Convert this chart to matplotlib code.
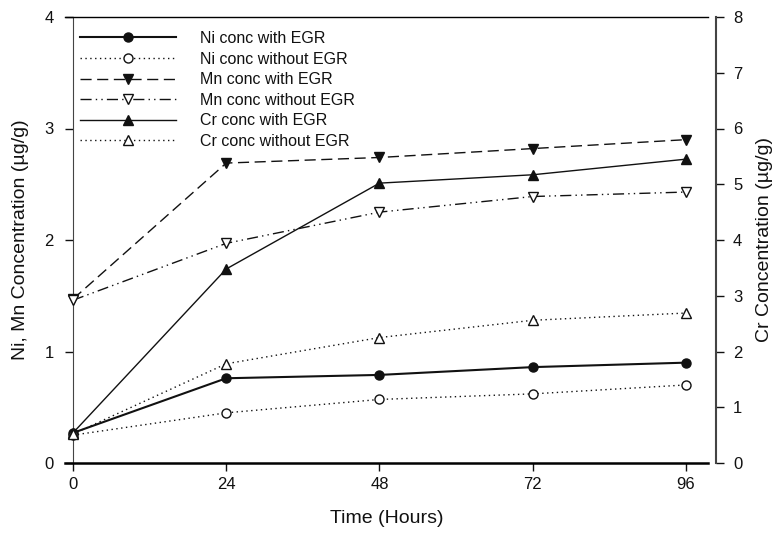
import matplotlib
matplotlib.use("Agg")
import matplotlib.pyplot as plt

plt.rcParams['font.family'] = ['Liberation Sans', 'DejaVu Sans']

hours = [0, 24, 48, 72, 96]
ni_with = [0.27, 0.76, 0.79, 0.86, 0.90]
ni_without = [0.25, 0.45, 0.57, 0.62, 0.70]
mn_with = [1.47, 2.69, 2.74, 2.82, 2.90]
mn_without = [1.46, 1.97, 2.25, 2.39, 2.43]
cr_with = [0.54, 3.48, 5.02, 5.17, 5.45]
cr_without = [0.52, 1.78, 2.25, 2.56, 2.69]

x_ticks = [0, 24, 48, 72, 96]
left_ticks = [0, 1, 2, 3, 4]
right_ticks = [0, 1, 2, 3, 4, 5, 6, 7, 8]

W, H = 782, 535
fig = plt.figure(figsize=(W / 100, H / 100), dpi=100)
ax = fig.add_axes([65 / W, 1 - 463 / H, (708 - 65) / W, (463 - 17) / H])
ax2 = ax.twinx()

dark = '#111111'
ms = 6.5
h1, = ax.plot(hours, ni_with, color=dark, lw=1.5, ls='-', marker='o', ms=ms,
              mfc=dark, mec=dark, label='Ni conc with EGR', zorder=5)
h2, = ax.plot(hours, ni_without, color=dark, lw=1.0, ls=(0, (1, 2.5)), marker='o', ms=ms,
              mfc='white', mec=dark, label='Ni conc without EGR', zorder=5)
h3, = ax.plot(hours, mn_with, color=dark, lw=1.0, ls=(0, (8, 4)), marker='v', ms=ms + 1,
              mfc=dark, mec=dark, label='Mn conc with EGR', zorder=5)
h4, = ax.plot(hours, mn_without, color=dark, lw=1.0, ls=(0, (8, 3, 1, 3, 1, 3)), marker='v', ms=ms + 1,
              mfc='white', mec=dark, label='Mn conc without EGR', zorder=5)
h5, = ax2.plot(hours, cr_with, color=dark, lw=1.0, ls='-', marker='^', ms=ms + 1,
               mfc=dark, mec=dark, label='Cr conc with EGR', zorder=5)
h6, = ax2.plot(hours, cr_without, color=dark, lw=1.0, ls=(0, (1, 2.5)), marker='^', ms=ms + 1,
               mfc='white', mec=dark, label='Cr conc without EGR', zorder=5)

ax.set_xlim(-1.25, 99.45)
ax.set_ylim(0, 4)
ax2.set_ylim(0, 8)
ax.set_xticks(x_ticks)
ax.set_xticklabels([str(t) for t in x_ticks])
ax.set_yticks(left_ticks)
ax2.set_yticks(right_ticks)

# spines
ax.spines['left'].set_position(('data', 0))
ax.spines['left'].set_linewidth(0.8)
ax.spines['left'].set_color('#444444')
ax.spines['bottom'].set_linewidth(1.8)
ax.spines['top'].set_linewidth(1.0)
ax.spines['right'].set_visible(False)
for s in ['left', 'top', 'bottom']:
    ax2.spines[s].set_visible(False)
ax2.spines['right'].set_position(('outward', 6))
ax2.spines['right'].set_linewidth(1.5)
ax2.spines['right'].set_color('#444444')

ax.tick_params(axis='x', direction='out', length=6, width=1.0, labelsize=12, pad=4, colors=dark)
ax.tick_params(axis='y', direction='out', length=6, width=1.0, labelsize=12, pad=8, colors=dark)
ax2.tick_params(axis='y', direction='out', length=6, width=1.0, labelsize=12, pad=6, colors=dark)

ax.set_xlabel('Time (Hours)', fontsize=14, labelpad=13, color=dark)
ax.set_ylabel('Ni, Mn Concentration (µg/g)', fontsize=14, labelpad=11, color=dark)
ax2.set_ylabel('Cr Concentration (µg/g)', fontsize=14, labelpad=10, color=dark)

leg = ax.legend(handles=[h1, h2, h3, h4, h5, h6], loc='upper left',
                bbox_to_anchor=(80 / W, 1 - 31 / H), bbox_transform=fig.transFigure,
                frameon=False, fontsize=11.5, handlelength=6.0, handletextpad=1.5,
                labelspacing=0.35, borderpad=0, borderaxespad=0, numpoints=1)
for t in leg.get_texts():
    t.set_color(dark)

fig.savefig('out.png', dpi=100)
